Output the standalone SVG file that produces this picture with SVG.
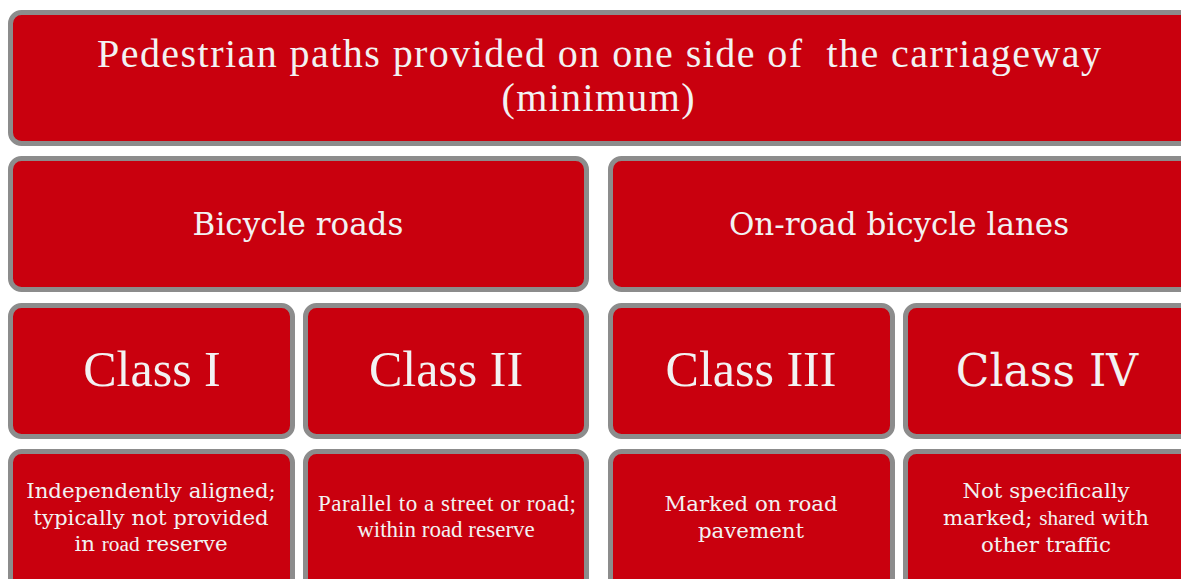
<svg xmlns="http://www.w3.org/2000/svg" width="1181" height="579" viewBox="0 0 1181 579">
<style>
.box{fill:#C9000E;stroke:#8C8C8C;stroke-width:5}
.t{fill:#F2F2F2;text-anchor:middle;font-family:"Liberation Serif",serif}
.s{fill:#F2F2F2;text-anchor:middle;font-family:"DejaVu Serif","Liberation Serif",serif}
</style>
<rect width="1181" height="579" fill="#FFFFFF"/>
<g id="top">
<rect class="box" x="10.5" y="12.5" width="1180" height="131" rx="11"/>
<text class="t" x="599" y="67" font-size="40" textLength="1004" lengthAdjust="spacing">Pedestrian paths provided on one side of&#160; the carriageway</text>
<text class="t" x="598" y="111" font-size="40" textLength="193" lengthAdjust="spacing">(minimum)</text>
</g>
<g id="bicycle-roads">
<rect class="box" x="10.5" y="158.5" width="576" height="131" rx="11"/>
<text class="s" x="298" y="235" font-size="31">Bicycle roads</text>
</g>
<g id="on-road-lanes">
<rect class="box" x="610.5" y="158.5" width="580" height="131" rx="11"/>
<text class="s" x="899" y="235" font-size="31">On-road bicycle lanes</text>
</g>
<g id="class1">
<rect class="box" x="10.5" y="305.5" width="282" height="131" rx="11"/>
<text class="t" x="152" y="386" font-size="50">Class I</text>
</g>
<g id="class2">
<rect class="box" x="305.5" y="305.5" width="281" height="131" rx="11"/>
<text class="t" x="446" y="386" font-size="50">Class II</text>
</g>
<g id="class3">
<rect class="box" x="610.5" y="305.5" width="282" height="131" rx="11"/>
<text class="t" x="751" y="386" font-size="50">Class III</text>
</g>
<g id="class4">
<rect class="box" x="905.5" y="305.5" width="285" height="131" rx="11"/>
<text class="s" x="1047" y="386" font-size="44">Class IV</text>
</g>
<g id="desc1">
<rect class="box" x="10.5" y="451.5" width="282" height="140" rx="11"/>
<text class="s" x="151" y="498" font-size="21.3">Independently aligned;</text>
<text class="s" x="151" y="525" font-size="21.3">typically not provided</text>
<text class="s" x="151" y="551" font-size="21.3">in <tspan font-family="Liberation Serif">road</tspan> reserve</text>
</g>
<g id="desc2">
<rect class="box" x="305.5" y="451.5" width="281" height="140" rx="11"/>
<text class="t" x="447" y="511" font-size="23" textLength="258" lengthAdjust="spacing">Parallel to a street or road;</text>
<text class="t" x="446" y="537" font-size="23">within road reserve</text>
</g>
<g id="desc3">
<rect class="box" x="610.5" y="451.5" width="282" height="140" rx="11"/>
<text class="s" x="751" y="511" font-size="21.3">Marked on road</text>
<text class="s" x="751" y="538" font-size="21.3">pavement</text>
</g>
<g id="desc4">
<rect class="box" x="905.5" y="451.5" width="285" height="140" rx="11"/>
<text class="s" x="1046" y="498" font-size="21.3">Not specifically</text>
<text class="s" x="1046" y="525" font-size="21.3">marked; <tspan font-family="Liberation Serif">shared</tspan> with</text>
<text class="s" x="1046" y="552" font-size="21.3">other traffic</text>
</g>
<g id="connectors"/>
</svg>
